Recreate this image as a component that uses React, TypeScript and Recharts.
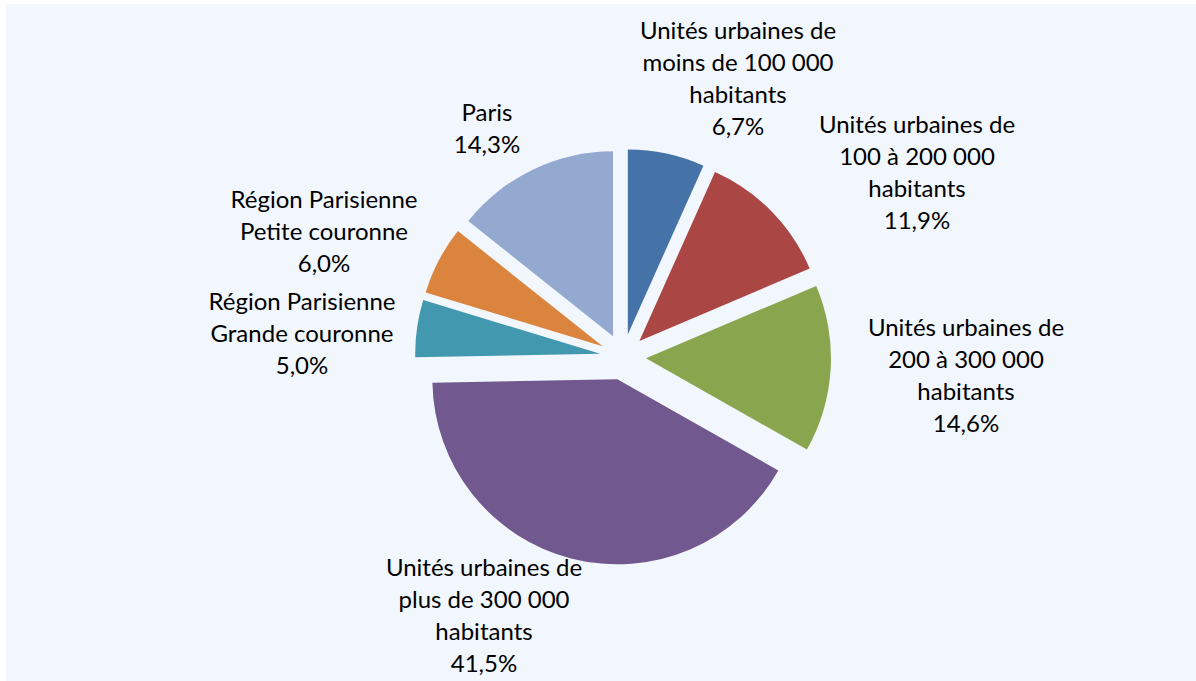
import { PieChart, Pie, Cell, Sector } from 'recharts'

const categories = [
  'Unités urbaines de\nmoins de 100 000\nhabitants',
  'Unités urbaines de\n100 à 200 000\nhabitants',
  'Unités urbaines de\n200 à 300 000\nhabitants',
  'Unités urbaines de\nplus de 300 000\nhabitants',
  'Région Parisienne\nGrande couronne',
  'Région Parisienne\nPetite couronne',
  'Paris',
]
const shares = [6.7, 11.9, 14.6, 41.5, 5.0, 6.0, 14.3]
const colors = ['#4572A7', '#AA4643', '#89A54E', '#71588F', '#4198AF', '#DB843D', '#93A9CF']

// label block placement relative to pie centre (centre x, first baseline y)
const labelOffsets = [
  [115, -318],
  [294, -224],
  [343, -21],
  [-139, 219],
  [-321, -47],
  [-299, -149],
  [-136, -236],
]

const EXPLODE = 23
const FONT = 'Lato, "Open Sans", sans-serif'

const data = categories.map((name, i) => ({ name, value: shares[i] }))

function ExplodedSector(props: any) {
  const { cx, cy, midAngle } = props
  const rad = (-midAngle * Math.PI) / 180
  return <Sector {...props} cx={cx + EXPLODE * Math.cos(rad)} cy={cy + EXPLODE * Math.sin(rad)} />
}

function renderLabel(props: any) {
  const { cx, cy, index } = props
  const [dx, dy] = labelOffsets[index]
  const lines = categories[index].split('\n')
  lines.push(shares[index].toFixed(1).replace('.', ',') + '%')
  return (
    <text x={cx + dx} y={cy + dy} textAnchor="middle" fill="#000" fontSize={24} fontFamily={FONT}>
      {lines.map((l, i) => (
        <tspan key={i} x={cx + dx} dy={i === 0 ? 0 : 32}>
          {l}
        </tspan>
      ))}
    </text>
  )
}

export default function App() {
  return (
    <div style={{ position: 'absolute', left: 0, top: 0, width: 1196, height: 681, background: '#fff' }}>
      <div style={{ position: 'absolute', left: 6, top: 4, width: 1190, height: 677, background: '#F2F6FD' }} />
      <div style={{ position: 'absolute', left: 0, top: 0 }}>
        <PieChart width={1196} height={681} margin={{ top: 0, right: 0, bottom: 0, left: 0 }}>
          <Pie
            data={data}
            dataKey="value"
            nameKey="name"
            cx={623}
            cy={357}
            outerRadius={185}
            startAngle={90}
            endAngle={-270}
            stroke="none"
            shape={ExplodedSector}
            label={renderLabel}
            labelLine={false}
            isAnimationActive={false}
          >
            {data.map((_, i) => (
              <Cell key={i} fill={colors[i]} />
            ))}
          </Pie>
        </PieChart>
      </div>
    </div>
  )
}
